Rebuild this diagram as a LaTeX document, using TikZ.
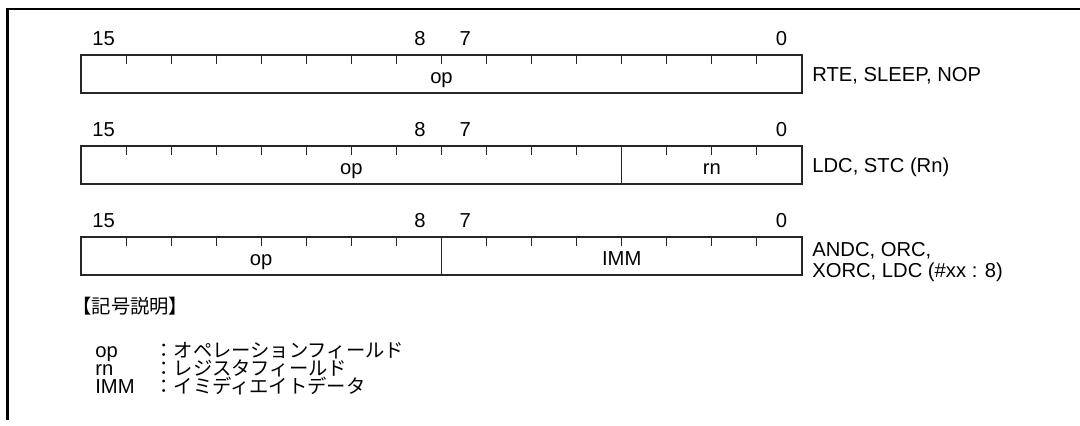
\documentclass[tikz,border=0pt]{standalone}
\usepackage{fontspec}
\setmainfont{Liberation Sans}
\newfontfamily\jpfont{Noto Sans CJK JP}
\usetikzlibrary{positioning}

\begin{document}
\begin{tikzpicture}[
    x=0.02cm, y=-0.02cm,
    font=\fontsize{11.5}{13}\selectfont,
    frame/.style={line width=1.4pt},
    regbox/.style={draw=black!85, line width=0.75pt},
    tick/.style={draw=black!85, line width=0.6pt},
    bitnum/.style={anchor=base, inner sep=0pt},
    fieldlbl/.style={anchor=base, inner sep=0pt},
    insn/.style={anchor=base west, inner sep=0pt},
    legend/.style={anchor=base west, inner sep=0pt, font=\fontsize{11}{12}\jpfont}
]
\useasboundingbox (0,0) rectangle (1080,426);

% outer frame
\draw[frame] (7.5,420) -- (7.5,9) -- (1080,9);

% === RTE, SLEEP, NOP ===
\node[bitnum] (r1b15) at (103.6,45.3) {15};
\node[bitnum] (r1b8) at (420,45.3) {8};
\node[bitnum] (r1b7) at (465.2,45.3) {7};
\node[bitnum] (r1b0) at (781.4,45.3) {0};
\draw[regbox] (81,55) rectangle (802,93);
\foreach \i in {1,...,15}
    \draw[tick] ({81+\i*45.06},55) -- ++(0,9);
\node[fieldlbl] (r1op) at (441.5,83.3) {op};
\node[insn] (r1ins) at (812,81.3) {RTE, SLEEP, NOP};

% === LDC, STC (Rn) ===
\node[bitnum] (r2b15) at (103.6,136.3) {15};
\node[bitnum] (r2b8) at (420,136.3) {8};
\node[bitnum] (r2b7) at (465.2,136.3) {7};
\node[bitnum] (r2b0) at (781.4,136.3) {0};
\draw[regbox] (81,146) rectangle (802,184);
\foreach \i in {1,...,11,13,14,15}
    \draw[tick] ({81+\i*45.06},146) -- ++(0,9);
\draw[regbox] (621.7,146) -- (621.7,184);
\node[fieldlbl] (r2op) at (351.4,174.3) {op};
\node[fieldlbl] (r2rn) at (711.9,174.3) {rn};
\node[insn] (r2ins) at (812,172.3) {LDC, STC (Rn)};

% === ANDC, ORC, XORC, LDC (#xx:8) ===
\node[bitnum] (r3b15) at (103.6,227.3) {15};
\node[bitnum] (r3b8) at (420,227.3) {8};
\node[bitnum] (r3b7) at (465.2,227.3) {7};
\node[bitnum] (r3b0) at (781.4,227.3) {0};
\draw[regbox] (81,237) rectangle (802,275);
\foreach \i in {1,...,7,9,10,...,15}
    \draw[tick] ({81+\i*45.06},237) -- ++(0,9);
\draw[regbox] (441.5,237) -- (441.5,275);
\node[fieldlbl] (r3op) at (261.2,265.3) {op};
\node[fieldlbl] (r3imm) at (621.7,265.3) {IMM};
\node[insn] (r3insa) at (812,256.3) {ANDC, ORC,};
\node[insn] (r3insb) at (812,277.3) {XORC, LDC (\#xx : 8)};

% legend
\node[legend] (keyhead) at (72,313) {【記号説明】};
\node[insn] (keyop) at (95,357) {op};
\node[insn] (keyrn) at (95,375) {rn};
\node[insn] (keyimm) at (95,393) {IMM};
\node[legend] (keyopt) at (154,357) {：オペレーションフィールド};
\node[legend] (keyrnt) at (154,375) {：レジスタフィールド};
\node[legend] (keyimmt) at (154,393) {：イミディエイトデータ};

\end{tikzpicture}
\end{document}
